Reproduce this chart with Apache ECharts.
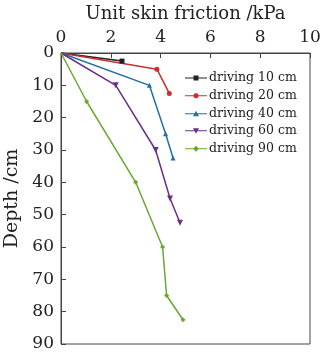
<!DOCTYPE html>
<html><head><meta charset="utf-8">
<script src="https://cdn.jsdelivr.net/npm/echarts@6/dist/echarts.min.js"></script>
<style>html,body{margin:0;padding:0;background:#fff}#c{width:325px;height:352px}</style>
</head><body><div id="c"></div>
<script>
const seriesNames = ['driving 10 cm','driving 20 cm','driving 40 cm','driving 60 cm','driving 90 cm'];
const friction10 = [0, 2.45];
const depth10 = [0, 2.5];
const friction20 = [0, 3.85, 4.35];
const depth20 = [0, 5, 12.5];
const friction40 = [0, 3.55, 4.2, 4.5];
const depth40 = [0, 10, 25, 32.5];
const friction60 = [0, 2.2, 3.8, 4.38, 4.78];
const depth60 = [0, 10, 30, 45, 52.5];
const friction90 = [0, 1.03, 3.0, 4.08, 4.24, 4.9];
const depth90 = [0, 15, 40, 60, 75, 82.5];
const xTicks = [0, 2, 4, 6, 8, 10];
const yTicks = [0, 10, 20, 30, 40, 50, 60, 70, 80, 90];

const colors = ['#222222','#c8302f','#1f6fa8','#6a2f86','#6aa832'];
const symbols = ['rect','circle','triangle','path://M0,0 L10,0 L5,10 Z','diamond'];
const lineIcon = 'M0,2.5 L22,2.5 L22,3.5 L0,3.5 Z ';
const legendIcons = [
  'path://' + lineIcon + 'M8.5,0.5 L13.5,0.5 L13.5,5.5 L8.5,5.5 Z',
  'path://' + lineIcon + 'M10,0.5 L12,0.5 L13.5,2 L13.5,4 L12,5.5 L10,5.5 L8.5,4 L8.5,2 Z',
  'path://' + lineIcon + 'M11,0 L14,5.5 L8,5.5 Z',
  'path://' + lineIcon + 'M8,0.5 L14,0.5 L11,6 Z',
  'path://' + lineIcon + 'M11,0 L14,3 L11,6 L8,3 Z'
];
const xs = [friction10, friction20, friction40, friction60, friction90];
const ys = [depth10, depth20, depth40, depth60, depth90];
const font = '"DejaVu Serif", "Liberation Serif", serif';

const chart = echarts.init(document.getElementById('c'));
chart.setOption({
  animation: false,
  textStyle: {fontFamily: font},
  grid: {left: 61, right: 15, top: 53, bottom: 8, show: true, borderColor: '#444', borderWidth: 1,
    containLabel: false, outerBoundsMode: 'none'},
  xAxis: {
    type: 'value', position: 'top', min: 0, max: 10, interval: 2,
    name: 'Unit skin friction /kPa', nameLocation: 'middle', nameGap: 30,
    nameTextStyle: {fontFamily: font, fontSize: 18, color: '#222'},
    axisLine: {show: true, lineStyle: {color: '#444'}},
    axisTick: {show: true, inside: true, length: 5, lineStyle: {color: '#444'}},
    axisLabel: {fontFamily: font, fontSize: 17, color: '#222', margin: 7,
      formatter: v => xTicks.includes(v) ? String(v) : ''},
    splitLine: {show: false}
  },
  yAxis: {
    type: 'value', inverse: true, min: 0, max: 90, interval: 10,
    name: 'Depth /cm', nameLocation: 'middle', nameGap: 36,
    nameTextStyle: {fontFamily: font, fontSize: 19, color: '#222'},
    axisLine: {show: true, lineStyle: {color: '#444'}},
    axisTick: {show: true, inside: true, length: 5, lineStyle: {color: '#444'}},
    axisLabel: {fontFamily: font, fontSize: 17, color: '#222', margin: 7,
      formatter: v => yTicks.includes(v) ? String(v) : ''},
    splitLine: {show: false}
  },
  legend: {
    orient: 'vertical', left: 180, top: 66, itemGap: 3.7, itemWidth: 22, itemHeight: 6,
    textStyle: {fontFamily: font, fontSize: 12.5, color: '#222', lineHeight: 14, padding: [0,0,0,-3]},
    data: seriesNames.map((n, i) => ({name: n, icon: legendIcons[i]}))
  },
  series: seriesNames.map((n, i) => ({
    name: n, type: 'line',
    data: xs[i].map((x, j) => j === 0 ? {value: [x, ys[i][j]], symbol: 'none'} : [x, ys[i][j]]),
    symbol: symbols[i], symbolSize: i === 3 ? 6 : 5, showSymbol: true,
    itemStyle: {color: colors[i]},
    lineStyle: {color: colors[i], width: 1.5}
  }))
});
</script></body></html>
